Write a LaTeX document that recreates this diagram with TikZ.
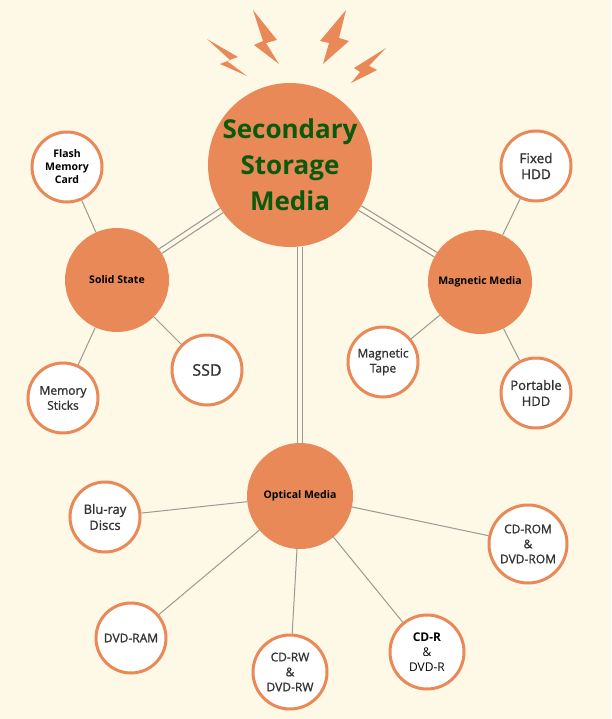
\documentclass[tikz,border=0pt]{standalone}
\usepackage{fontspec}
\setmainfont{Open Sans}
\newfontfamily\semib[FakeBold=1.2]{Open Sans}
\definecolor{bg}{HTML}{FEF8E6}
\definecolor{org}{HTML}{E88957}
\definecolor{grn}{HTML}{0B5A0B}
\definecolor{txt}{HTML}{333333}
\definecolor{ln}{HTML}{9A9A94}
\begin{document}
\begin{tikzpicture}[x=1pt,y=-1pt,
  hub/.style={circle,fill=org,inner sep=0pt,align=center,font=\bfseries\fontsize{10.5}{12}\selectfont,text=black},
  leaf/.style={circle,draw=org,line width=3pt,fill=white,inner sep=0pt,minimum size=70pt,align=center,font=\semib\fontsize{12}{15}\selectfont,text=txt},
  link/.style={draw=ln,line width=1pt},
  dbl/.style={draw=ln,double=bg,double distance=4pt,line width=1.2pt}]
\fill[bg] (0,0) rectangle (611,719);
\useasboundingbox (0,0) rectangle (611,719);
% bolts
\fill[org] (207,39)--(238,57)--(227,61)--(247,76)--(220,64)--(230,60)--cycle;
\fill[org] (253,10)--(277,40)--(266,43)--(279,64)--(254,45)--(263,41)--cycle;
\fill[org] (346,10)--(339,38)--(349,41)--(323,64)--(329,43)--(320,41)--cycle;
\fill[org] (386,48)--(369,66)--(377,70)--(351,83)--(360,72)--(354,68)--cycle;
\node[hub,minimum size=164pt,font=\bfseries\fontsize{26}{36}\selectfont,text=grn] (main) at (290,165) {Secondary\\Storage\\Media};
\node[hub,minimum size=104pt] (ss) at (117,280) {Solid State};
\node[hub,minimum size=104pt] (mm) at (480,282) {Magnetic Media};
\node[hub,minimum size=106pt] (om) at (300,496) {Optical Media};
\node[leaf,font=\bfseries\fontsize{10.5}{13}\selectfont,text=black] (fm) at (67,167) {Flash\\Memory\\Card};
\node[leaf] (ms) at (63,398) {Memory\\Sticks};
\node[leaf,font=\semib\fontsize{16}{18}\selectfont] (ssd) at (207,370) {SSD};
\node[leaf,font=\semib\fontsize{13.5}{16}\selectfont] (fh) at (536,166) {Fixed\\HDD};
\node[leaf] (mt) at (383,362) {Magnetic\\Tape};
\node[leaf,font=\semib\fontsize{13}{16}\selectfont] (ph) at (536,393) {Portable\\HDD};
\node[leaf,font=\semib\fontsize{13}{16}\selectfont] (br) at (105,517) {Blu-ray\\Discs};
\node[leaf,minimum size=78pt] (cdrom) at (528,544) {CD-ROM\\\&\\DVD-ROM};
\node[leaf] (dram) at (131,638) {DVD-RAM};
\node[leaf,minimum size=74pt] (cdrw) at (290,672) {CD-RW\\\&\\DVD-RW};
\node[leaf,minimum size=74pt,text=black,font=\fontsize{12}{15}\selectfont] (cdr) at (427,652) {\textbf{CD-R}\\\&\\DVD-R};
% connectors
\draw[dbl] (main) -- (ss);
\draw[dbl] (main) -- (mm);
\draw[dbl] (main.south -| om.north) -- (om);
\draw[link] (ss) -- (fm);
\draw[link] (ss) -- (ms);
\draw[link] (ss) -- (ssd);
\draw[link] (mm) -- (fh);
\draw[link] (mm) -- (mt);
\draw[link] (mm) -- (ph);
\draw[link] (om) -- (br);
\draw[link] (om) -- (cdrom);
\draw[link] (om) -- (dram);
\draw[link] (om) -- (cdrw);
\draw[link] (om) -- (cdr);
\end{tikzpicture}
\end{document}
